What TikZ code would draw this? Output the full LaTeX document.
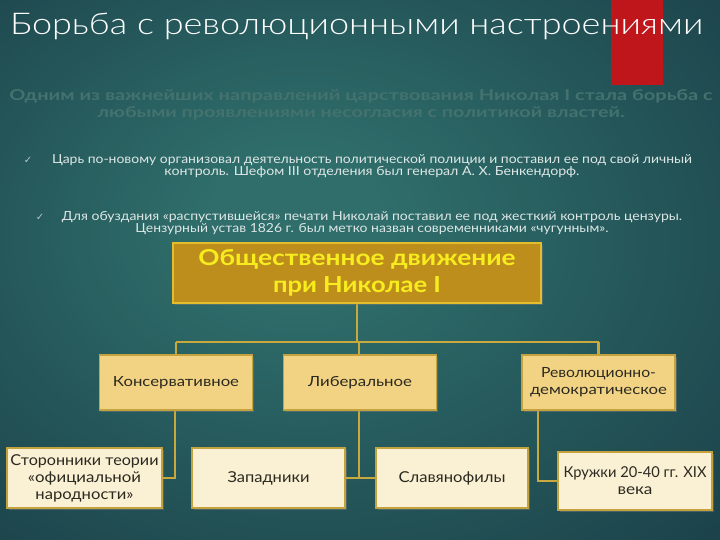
\documentclass[tikz,border=0pt]{standalone}
\usepackage{fontspec}
\usepackage{graphicx}
\setmainfont{Lato}
\IfFontExistsTF{Lato Light}{\newfontfamily\titlefont{Lato Light}}{\newfontfamily\titlefont{Lato}}
\newfontfamily\chkfont{DejaVu Sans}
\usetikzlibrary{shadows}
\definecolor{bgin}{HTML}{2F6E6B}
\definecolor{bgout}{HTML}{1A3F48}
\definecolor{bgdark}{HTML}{13303B}
\definecolor{redbar}{HTML}{BF161C}
\definecolor{subcol}{HTML}{44726F}
\definecolor{bultxt}{HTML}{DDE7E6}
\definecolor{chkcol}{HTML}{B8CCC4}
\definecolor{topfill}{HTML}{BE8E1C}
\definecolor{topdraw}{HTML}{E3BD2B}
\definecolor{toptxt}{HTML}{F7EC1E}
\definecolor{midfill}{HTML}{F2D384}
\definecolor{boxdraw}{HTML}{C4A23E}
\definecolor{lowfill}{HTML}{FAF0D4}
\definecolor{boxtxt}{HTML}{2B2A20}
\definecolor{conncol}{HTML}{C9A93E}
\newcommand{\fw}[2]{\resizebox{#1pt}{\height}{#2}}
\pgfdeclareradialshading{bgshade}{\pgfpoint{-5bp}{5bp}}{color(0bp)=(bgin); color(6bp)=(bgin); color(40bp)=(bgout); color(60bp)=(bgdark)}
\tikzset{
  topbox/.style={draw=topdraw, line width=1.6pt, fill=topfill, minimum width=368pt, minimum height=60pt,
    text=toptxt, font=\bfseries\fontsize{22}{27}\selectfont, align=center, inner sep=0pt,
    drop shadow={shadow xshift=1.5pt, shadow yshift=-1.5pt, opacity=.45}},
  midbox/.style={draw=boxdraw, line width=1.6pt, fill=midfill, minimum width=153pt, minimum height=55pt,
    text=boxtxt, font=\fontsize{14}{17}\selectfont, align=center, inner sep=0pt,
    drop shadow={shadow xshift=1.5pt, shadow yshift=-1.5pt, opacity=.45}},
  lowbox/.style={draw=boxdraw, line width=1.6pt, fill=lowfill, minimum height=60pt,
    text=boxtxt, font=\fontsize{15}{17}\selectfont, align=center, inner sep=0pt,
    drop shadow={shadow xshift=1.5pt, shadow yshift=-1.5pt, opacity=.45}},
  conn/.style={draw=conncol, line width=2.6pt},
  bullettext/.style={text=bultxt, font=\fontsize{12.5}{12.5}\selectfont, align=center, inner sep=0pt},
  chk/.style={text=chkcol, font=\chkfont\fontsize{10}{10}\selectfont, inner sep=0pt}
}
\begin{document}
\begin{tikzpicture}[x=1pt,y=-1pt]
\useasboundingbox (0,0) rectangle (720,540);
\shade[shading=bgshade] (0,0) rectangle (720,540);
\fill[redbar] (611,0) rectangle (663,85);
\node[anchor=west, text=white, font=\titlefont\fontsize{30}{36}\selectfont, inner sep=0pt] (title) at (10,26)
  {\fw{693}{Борьба с революционными настроениями}};
\node[text=subcol, font=\bfseries\fontsize{15}{16.5}\selectfont, align=center, inner sep=0pt] (sub) at (361,105)
  {\fw{703}{Одним из важнейших направлений царствования Николая I стала борьба с}\\
   \fw{527}{любыми проявлениями несогласия с политикой властей.}};
\node[chk] (c1) at (28,160) {✓};
\node[bullettext] (b1) at (372,166)
  {\fw{640}{Царь по-новому организовал деятельность политической полиции и поставил ее под свой личный}\\
   \fw{415}{контроль. Шефом III отделения был генерал А. Х. Бенкендорф.}};
\node[chk] (c2) at (40,217) {✓};
\node[bullettext] (b2) at (372,223)
  {\fw{620}{Для обуздания «распустившейся» печати Николай поставил ее под жесткий контроль цензуры.}\\
   \fw{473}{Цензурный устав 1826 г. был метко назван современниками «чугунным».}};
% connectors
\coordinate (hl) at (176,342);
\coordinate (hr) at (598.5,342);
\coordinate (topbot) at (357,302);
\coordinate (kbot) at (175,410);
\coordinate (lbot) at (359,410);
\coordinate (rbot) at (538,410);
\node[lowbox, minimum width=155pt] (stor) at (84.5,478) {\fw{148}{Сторонники теории}\\ \fw{113}{«официальной}\\ \fw{98}{народности»}};
\node[lowbox, minimum width=153pt] (zap) at (268.5,478) {\fw{82}{Западники}};
\node[lowbox, minimum width=152pt] (slav) at (452,478) {\fw{107}{Славянофилы}};
\node[lowbox, minimum width=154pt, minimum height=58pt] (kruz) at (635,481) {\fw{143}{Кружки 20-40 гг. XIX}\\ \fw{35}{века}};
\draw[conn] (topbot) -- (topbot |- hl);
\draw[conn] (hl) -- (hr);
\draw[conn] (hl) -- (176,355);
\draw[conn] (lbot |- hl) -- (359,355);
\draw[conn] (hr) -- (598.5,355);
\draw[conn] (kbot) |- (stor.east);
\draw[conn] (lbot) -- (lbot |- zap.east);
\draw[conn] (zap.east) -- (slav.west);
\draw[conn] (rbot) |- (kruz.west);
\node[topbox] (top) at (357,273) {\fw{317}{Общественное движение}\\ \fw{168}{при Николае I}};
\node[midbox] (kons) at (176,382.5) {\fw{126}{Консервативное}};
\node[midbox] (lib) at (360,382.5) {\fw{104}{Либеральное}};
\node[midbox] (rev) at (598.5,382.5) {\fw{115}{Революционно-}\\ \fw{137}{демократическое}};
\end{tikzpicture}
\end{document}
